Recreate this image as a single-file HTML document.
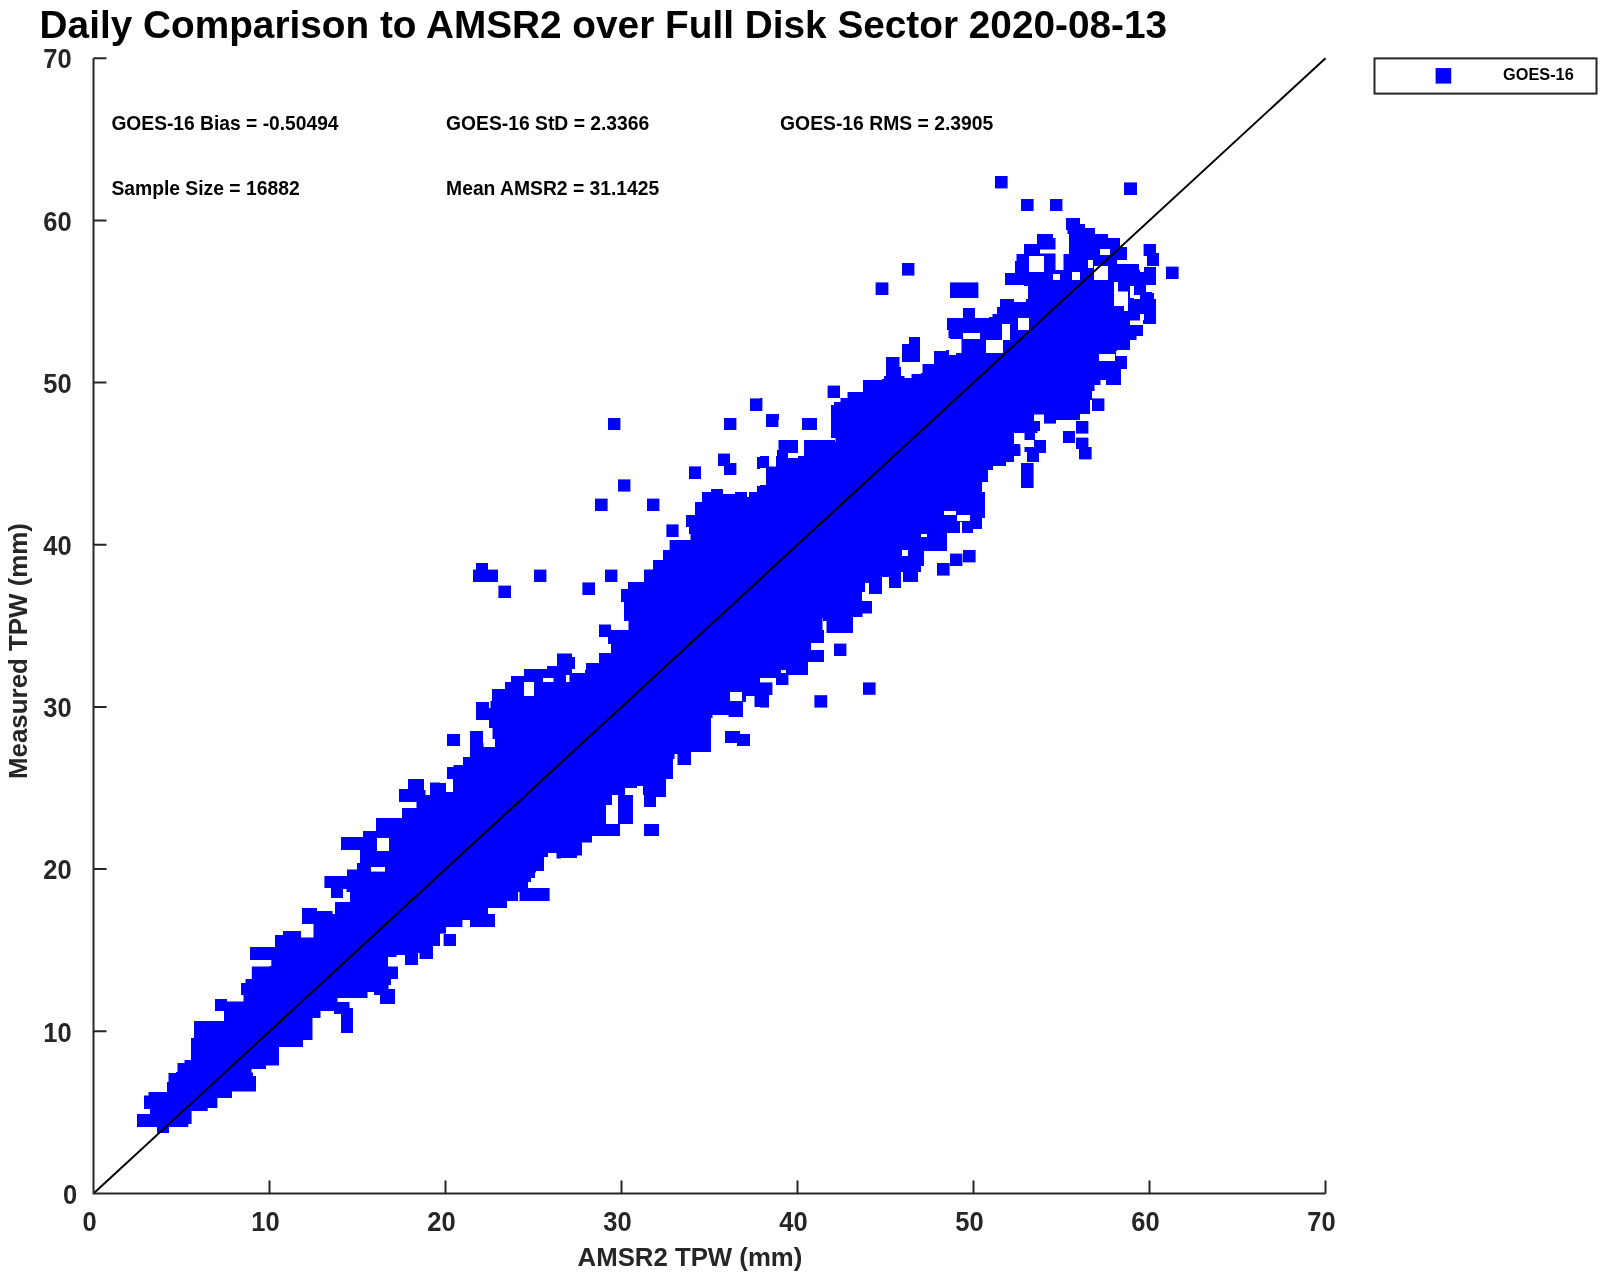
<!DOCTYPE html>
<html><head><meta charset="utf-8"><style>
html,body{margin:0;padding:0;background:#fff;width:1600px;height:1274px;overflow:hidden}
svg{display:block}
text{font-family:"Liberation Sans",sans-serif;font-weight:bold;filter:grayscale(1)}
</style></head><body>
<svg width="1600" height="1274" viewBox="0 0 1600 1274">
<text x="39.58" y="38.2" font-size="38.5" fill="#000" textLength="1127.55" lengthAdjust="spacingAndGlyphs">Daily Comparison to AMSR2 over Full Disk Sector 2020-08-13</text>
<text x="111.4" y="129.6" font-size="19.3" fill="#000" textLength="227.16" lengthAdjust="spacingAndGlyphs">GOES-16 Bias = -0.50494</text>
<text x="446.1" y="129.6" font-size="19.3" fill="#000" textLength="203.19" lengthAdjust="spacingAndGlyphs">GOES-16 StD = 2.3366</text>
<text x="780.1" y="129.6" font-size="19.3" fill="#000" textLength="213.14" lengthAdjust="spacingAndGlyphs">GOES-16 RMS = 2.3905</text>
<text x="111.4" y="194.5" font-size="19.3" fill="#000" textLength="188.23" lengthAdjust="spacingAndGlyphs">Sample Size = 16882</text>
<text x="446.1" y="194.5" font-size="19.3" fill="#000" textLength="213.19" lengthAdjust="spacingAndGlyphs">Mean AMSR2 = 31.1425</text>
<g fill="#0000ff"><polygon points="157.0,1133.0 157.0,1127.0 137.0,1127.0 137.0,1114.0 150.0,1114.0 150.0,1113.0 150.0,1109.0 144.0,1109.0 144.0,1108.0 144.0,1095.6 148.5,1095.6 148.5,1092.0 153.0,1092.0 167.0,1092.0 167.0,1091.0 167.0,1082.0 168.5,1082.0 168.5,1073.0 170.0,1073.0 176.0,1073.0 176.0,1072.0 177.5,1072.0 177.5,1063.0 179.0,1063.0 184.5,1063.0 184.5,1060.0 190.0,1060.0 191.0,1060.0 191.0,1038.0 192.0,1038.0 194.0,1038.0 194.0,1021.0 196.0,1021.0 224.0,1021.0 224.0,1020.0 224.0,1011.0 215.0,1011.0 215.0,1010.0 215.0,999.0 227.0,999.0 227.0,1001.6 228.0,1001.6 246.0,1001.6 243.5,1001.6 243.5,995.0 241.0,995.0 241.0,983.0 245.5,983.0 245.5,979.0 250.0,979.0 251.8,979.0 251.8,966.4 253.6,966.4 269.6,966.4 269.6,966.0 271.3,966.0 271.3,960.0 273.0,960.0 250.0,960.0 250.0,959.0 250.0,947.0 275.0,947.0 275.0,946.4 275.0,935.0 276.0,935.0 283.0,935.0 283.0,931.0 290.0,931.0 301.0,931.0 301.0,937.6 302.0,937.6 312.0,937.6 313.5,937.6 313.5,924.0 315.0,924.0 302.0,924.0 302.0,923.0 302.0,920.0 440.0,920.0 440.0,946.0 433.0,946.0 433.0,959.0 421.0,959.0 419.5,959.0 419.5,953.0 418.0,953.0 418.0,965.0 417.0,965.0 405.0,965.0 405.0,955.0 396.5,955.0 396.5,957.0 388.0,957.0 388.0,966.4 398.0,966.4 398.0,979.0 391.0,979.0 391.0,985.0 382.0,985.0 388.5,985.0 388.5,989.0 395.0,989.0 395.0,1004.0 380.0,1004.0 380.0,995.0 379.0,995.0 374.0,995.0 374.0,992.0 369.0,992.0 367.5,992.0 367.5,998.0 366.0,998.0 335.0,998.0 337.5,998.0 337.5,1002.0 340.0,1002.0 346.0,1002.0 349.5,1002.0 349.5,1008.0 353.0,1008.0 353.0,1033.0 341.0,1033.0 341.0,1014.0 334.0,1014.0 334.0,1011.0 327.0,1011.0 320.5,1011.0 320.5,1018.0 314.0,1018.0 312.5,1018.0 312.5,1040.0 311.0,1040.0 303.0,1040.0 303.0,1047.0 295.0,1047.0 279.0,1047.0 279.0,1065.6 266.0,1065.6 266.0,1069.0 253.0,1069.0 251.5,1069.0 251.5,1072.4 250.0,1072.4 253.0,1072.4 253.0,1076.0 256.0,1076.0 256.0,1091.4 237.0,1091.4 232.0,1091.4 232.0,1098.0 227.0,1098.0 217.4,1098.0 217.4,1108.0 207.7,1108.0 207.7,1111.0 198.0,1111.0 191.6,1111.0 191.6,1124.0 188.3,1124.0 188.3,1127.0 185.0,1127.0 169.0,1127.0 169.0,1133.0"/><rect x="440.0" y="920.0" width="22.4" height="7.0"/><rect x="440.0" y="927.0" width="6.0" height="6.6"/><rect x="443.6" y="934.0" width="12.4" height="12.0"/><rect x="470.0" y="920.0" width="25.0" height="7.0"/><polygon points="302.0,920.0 302.0,908.0 317.0,908.0 317.0,911.0 330.0,911.0 332.5,911.0 332.5,914.0 335.0,914.0 335.0,902.0 350.0,902.0 350.0,901.0 350.0,892.0 346.5,892.0 346.5,889.0 343.0,889.0 343.0,898.0 331.0,898.0 331.0,888.0 324.4,888.0 324.4,876.0 347.0,876.0 347.0,869.6 357.0,869.6 357.0,869.0 357.0,863.0 360.0,863.0 360.0,850.0 341.0,850.0 341.0,849.6 341.0,837.0 363.0,837.0 363.0,831.0 376.0,831.0 376.0,830.0 376.0,818.0 402.0,818.0 402.0,817.6 402.0,808.0 415.0,808.0 416.5,808.0 416.5,802.0 418.0,802.0 399.0,802.0 399.0,801.0 399.0,789.0 408.0,789.0 408.0,779.0 424.0,779.0 424.0,790.0 425.5,790.0 425.5,795.0 427.0,795.0 430.0,795.0 430.0,782.4 431.0,782.4 440.0,782.4 440.0,920.0"/><polygon points="440.0,920.0 440.0,783.0 447.0,783.0 447.0,782.0 447.0,767.0 453.5,767.0 453.5,765.0 460.0,765.0 463.0,765.0 463.0,757.0 466.0,757.0 470.0,757.0 470.0,756.0 470.0,743.0 482.0,743.0 483.5,743.0 483.5,747.0 485.0,747.0 495.0,747.0 495.0,746.0 495.0,739.0 496.0,739.0 492.5,739.0 492.5,728.0 489.0,728.0 489.0,708.0 490.5,708.0 490.5,701.0 492.0,701.0 492.0,689.0 505.0,689.0 505.0,682.0 511.0,682.0 511.0,676.0 512.0,676.0 524.0,676.0 524.0,670.0 760.0,670.0 760.0,707.0 754.5,707.0 754.5,696.0 749.0,696.0 746.0,696.0 746.0,702.0 743.0,702.0 743.0,717.0 728.5,717.0 728.5,715.0 714.0,715.0 712.5,715.0 712.5,718.0 711.0,718.0 711.0,752.0 691.0,752.0 691.0,765.0 679.0,765.0 677.5,765.0 677.5,754.0 676.0,754.0 674.5,754.0 674.5,759.0 673.0,759.0 673.0,779.0 672.0,779.0 666.0,779.0 666.0,780.0 666.0,797.0 656.0,797.0 656.0,798.0 656.0,807.0 644.0,807.0 644.0,795.0 643.0,795.0 643.0,786.0 642.0,786.0 637.0,786.0 637.0,788.0 632.0,788.0 625.0,788.0 625.0,795.0 618.0,795.0 612.0,795.0 612.0,805.0 606.0,805.0 606.0,824.0 607.0,824.0 620.0,824.0 620.0,836.0 592.0,836.0 592.0,837.0 592.0,842.4 582.0,842.4 582.0,843.6 582.0,855.6 577.0,855.6 577.0,858.0 572.0,858.0 561.0,858.0 561.0,858.4 556.5,858.4 556.5,853.0 552.0,853.0 548.0,853.0 548.0,857.0 544.0,857.0 544.0,871.0 543.0,871.0 536.0,871.0 536.0,872.4 535.0,872.4 535.0,878.0 534.0,878.0 531.0,878.0 531.0,882.0 528.0,882.0 528.0,888.0 549.6,888.0 549.6,889.0 549.6,901.0 521.0,901.0 519.5,901.0 519.5,892.0 518.0,892.0 518.0,901.0 517.0,901.0 507.0,901.0 507.0,902.0 507.0,908.0 488.0,908.0 488.0,914.0 495.0,914.0 495.0,920.0"/><rect x="476.0" y="702.0" width="13.0" height="18.0"/><rect x="447.0" y="734.0" width="13.0" height="12.0"/><rect x="470.0" y="731.0" width="13.0" height="12.0"/><rect x="725.0" y="731.0" width="15.0" height="12.0"/><rect x="737.0" y="734.0" width="13.0" height="12.0"/><rect x="644.0" y="824.0" width="15.0" height="12.0"/><rect x="618.0" y="795.0" width="15.0" height="29.0"/><rect x="644.0" y="795.0" width="12.0" height="12.0"/><rect x="760.0" y="670.0" width="21.0" height="8.0"/><rect x="786.0" y="670.0" width="22.0" height="5.0"/><rect x="776.0" y="673.0" width="12.4" height="12.0"/><rect x="760.0" y="682.4" width="12.4" height="12.6"/><rect x="760.0" y="695.0" width="9.0" height="12.6"/><rect x="814.4" y="695.2" width="12.8" height="12.4"/><rect x="863.0" y="682.4" width="12.6" height="12.4"/><polygon points="524.0,670.0 524.0,669.0 547.0,669.0 547.0,666.0 557.0,666.0 557.0,653.6 569.0,653.6 572.0,653.6 572.0,657.0 575.0,657.0 575.0,670.0 586.0,670.0 586.0,663.0 599.0,663.0 599.0,653.0 611.0,653.0 611.0,644.0 608.0,644.0 608.0,643.0 608.0,637.0 599.0,637.0 599.0,636.0 599.0,624.4 611.0,624.4 611.0,630.0 627.0,630.0 628.5,630.0 628.5,621.0 630.0,621.0 624.0,621.0 624.0,620.0 624.0,602.0 621.0,602.0 621.0,601.0 621.0,589.0 628.0,589.0 628.0,588.0 628.0,582.0 644.0,582.0 644.0,581.0 644.0,569.6 653.0,569.6 653.0,569.0 653.0,560.0 663.0,560.0 663.0,559.6 663.0,550.0 669.6,550.0 669.6,549.6 669.6,540.0 689.0,540.0 690.5,540.0 690.5,534.0 692.0,534.0 689.0,534.0 689.0,527.0 686.0,527.0 686.0,515.0 695.0,515.0 695.0,514.0 695.0,502.0 702.0,502.0 702.0,501.0 702.0,492.0 711.0,492.0 711.0,491.0 711.0,489.0 712.0,489.0 723.0,489.0 723.0,494.0 724.0,494.0 735.0,494.0 735.0,492.0 746.0,492.0 747.0,492.0 747.0,497.0 748.0,497.0 749.0,497.0 749.0,492.0 750.0,492.0 757.0,492.0 757.0,491.0 757.0,486.0 760.0,486.0 760.0,485.0 760.0,670.0"/><rect x="608.0" y="420.0" width="12.4" height="10.0"/><rect x="724.0" y="420.0" width="12.4" height="10.0"/><rect x="718.0" y="453.6" width="12.0" height="12.4"/><rect x="724.0" y="463.0" width="12.4" height="12.0"/><rect x="757.0" y="457.0" width="3.0" height="12.0"/><rect x="689.0" y="466.4" width="12.0" height="12.6"/><rect x="618.0" y="479.4" width="12.4" height="12.2"/><rect x="595.0" y="498.6" width="12.6" height="12.4"/><rect x="647.0" y="498.6" width="12.4" height="12.4"/><rect x="666.4" y="524.4" width="12.2" height="12.6"/><rect x="476.0" y="563.0" width="12.0" height="7.0"/><rect x="473.0" y="569.6" width="25.0" height="12.4"/><rect x="498.4" y="585.6" width="12.6" height="12.4"/><rect x="534.0" y="569.6" width="12.4" height="12.4"/><rect x="605.0" y="569.6" width="12.4" height="12.4"/><rect x="582.4" y="582.4" width="12.6" height="12.6"/><polygon points="760.0,670.0 760.0,485.0 766.0,485.0 766.0,478.0 778.0,478.0 779.0,478.0 779.0,468.0 780.0,468.0 760.0,468.0 760.0,456.0 777.0,456.0 777.0,450.0 778.5,450.0 778.5,440.0 780.0,440.0 798.0,440.0 798.0,453.0 797.0,453.0 797.0,458.0 796.0,458.0 798.0,458.0 798.0,456.0 800.0,456.0 804.0,456.0 804.0,440.0 808.0,440.0 830.0,440.0 835.0,440.0 835.0,442.0 840.0,442.0 835.5,442.0 835.5,438.0 831.0,438.0 831.0,420.0 1040.0,420.0 1040.0,431.0 1037.5,431.0 1037.5,433.0 1035.0,433.0 1035.0,440.0 1036.0,440.0 1046.0,440.0 1046.0,441.0 1046.0,453.0 1039.0,453.0 1039.0,454.0 1039.0,462.0 1027.0,462.0 1027.0,452.0 1023.5,452.0 1023.5,456.0 1020.0,456.0 1014.0,456.0 1014.0,457.0 1014.0,462.0 1006.0,462.0 1006.0,466.0 998.0,466.0 993.0,466.0 993.0,470.0 988.0,470.0 988.0,482.0 982.0,482.0 982.0,483.0 982.0,492.0 985.0,492.0 985.0,493.0 985.0,518.0 982.0,518.0 982.0,519.0 982.0,529.0 973.0,529.0 973.0,533.0 964.0,533.0 962.0,533.0 962.0,522.0 960.0,522.0 960.0,533.0 959.0,533.0 947.0,533.0 947.0,551.0 946.0,551.0 924.0,551.0 924.0,552.0 924.0,566.0 921.0,566.0 921.0,572.0 918.0,572.0 918.0,582.0 905.0,582.0 903.0,582.0 903.0,572.0 901.0,572.0 901.0,588.0 889.0,588.0 889.0,577.0 882.0,577.0 882.0,594.0 870.0,594.0 869.0,594.0 869.0,583.0 868.0,583.0 865.0,583.0 865.0,592.0 862.0,592.0 862.0,601.0 872.0,601.0 872.0,602.0 872.0,613.6 862.5,613.6 862.5,617.0 853.0,617.0 853.0,633.0 828.0,633.0 826.5,633.0 826.5,621.0 825.0,621.0 823.0,621.0 823.0,618.0 821.0,618.0 822.5,618.0 822.5,630.0 824.0,630.0 824.0,643.0 811.0,643.0 811.0,644.0 811.0,650.0 824.0,650.0 824.0,662.0 808.0,662.0 808.0,663.0 808.0,670.0"/><rect x="766.0" y="420.0" width="12.4" height="7.0"/><rect x="802.0" y="420.0" width="15.0" height="10.0"/><rect x="1044.0" y="420.0" width="12.0" height="3.6"/><rect x="1063.0" y="431.0" width="12.0" height="12.0"/><rect x="1021.0" y="463.0" width="12.6" height="25.0"/><rect x="937.0" y="563.0" width="12.6" height="12.6"/><rect x="950.0" y="553.6" width="12.4" height="12.4"/><rect x="963.0" y="550.0" width="12.6" height="12.4"/><rect x="834.0" y="643.6" width="12.4" height="12.4"/><rect x="1076.0" y="421.0" width="12.4" height="12.6"/><rect x="1076.0" y="437.6" width="12.4" height="11.4"/><rect x="1079.0" y="447.0" width="12.6" height="12.4"/><rect x="750.0" y="398.4" width="10.0" height="12.6"/><rect x="608.0" y="418.0" width="12.4" height="2.0"/><rect x="724.0" y="418.0" width="12.4" height="2.0"/><polygon points="831.0,420.0 831.0,405.0 834.0,405.0 834.0,402.0 837.0,402.0 840.5,402.0 840.5,398.0 844.0,398.0 847.5,398.0 847.5,392.0 851.0,392.0 863.0,392.0 863.0,380.0 882.0,380.0 882.0,379.0 884.0,379.0 884.0,376.0 886.0,376.0 886.0,357.0 898.0,357.0 899.5,357.0 899.5,367.0 901.0,367.0 901.0,376.0 904.5,376.0 904.5,378.0 908.0,378.0 911.5,378.0 911.5,374.0 915.0,374.0 921.0,374.0 921.0,373.0 922.5,373.0 922.5,364.0 924.0,364.0 934.0,364.0 934.0,363.0 934.0,351.0 946.0,351.0 946.0,350.0 949.0,350.0 949.0,355.0 952.0,355.0 956.0,355.0 956.0,353.0 960.0,353.0 961.5,353.0 961.5,339.0 963.0,339.0 950.0,339.0 950.0,338.0 948.5,338.0 948.5,330.0 947.0,330.0 947.0,318.0 963.0,318.0 963.0,317.6 963.0,308.0 975.0,308.0 975.0,318.0 976.0,318.0 989.0,318.0 989.0,317.0 992.5,317.0 992.5,314.0 996.0,314.0 997.0,314.0 997.0,307.0 998.0,307.0 1000.0,307.0 1000.0,299.0 1002.0,299.0 1014.0,299.0 1014.0,302.0 1015.0,302.0 1024.0,302.0 1026.0,302.0 1026.0,298.0 1028.0,298.0 1028.0,286.0 1024.0,286.0 1024.0,285.0 1005.0,285.0 1005.0,273.0 1015.0,273.0 1015.0,272.0 1015.0,261.0 1016.5,261.0 1016.5,254.0 1018.0,254.0 1024.0,254.0 1024.0,253.0 1024.0,244.0 1037.0,244.0 1037.0,243.6 1037.0,234.0 1050.0,234.0 1053.0,234.0 1053.0,238.0 1056.0,238.0 1056.0,250.0 1059.5,250.0 1059.5,252.0 1063.0,252.0 1066.0,252.0 1066.0,250.0 1069.0,250.0 1069.0,234.0 1067.5,234.0 1067.5,230.0 1066.0,230.0 1066.0,218.0 1080.0,218.0 1080.0,420.0"/><rect x="995.0" y="176.0" width="12.6" height="12.4"/><rect x="1021.0" y="199.0" width="12.6" height="12.0"/><rect x="1050.0" y="199.0" width="12.4" height="12.0"/><rect x="902.0" y="263.0" width="12.4" height="12.6"/><rect x="875.6" y="282.4" width="12.8" height="12.6"/><rect x="950.0" y="282.4" width="28.4" height="15.6"/><rect x="827.6" y="385.6" width="12.4" height="12.4"/><rect x="760.0" y="398.0" width="2.4" height="13.0"/><rect x="766.0" y="414.0" width="13.0" height="6.0"/><rect x="802.0" y="418.0" width="15.0" height="2.0"/><rect x="909.0" y="337.0" width="11.0" height="13.0"/><rect x="902.0" y="344.0" width="18.0" height="18.0"/><rect x="1044.0" y="253.0" width="12.4" height="13.0"/><rect x="1063.0" y="253.0" width="17.0" height="13.0"/><polygon points="1080.0,224.0 1085.0,224.0 1085.0,225.0 1085.0,228.0 1095.0,228.0 1095.0,234.0 1108.0,234.0 1108.0,238.0 1120.0,238.0 1120.0,247.0 1121.0,247.0 1127.0,247.0 1127.0,248.0 1127.0,260.0 1117.0,260.0 1117.0,261.0 1117.0,264.0 1118.0,264.0 1139.0,264.0 1139.0,270.0 1140.0,270.0 1142.0,270.0 1142.0,267.0 1144.0,267.0 1156.0,267.0 1156.0,285.0 1146.0,285.0 1146.0,286.0 1146.0,292.0 1152.0,292.0 1152.0,293.0 1154.0,293.0 1154.0,299.0 1156.0,299.0 1156.0,324.0 1143.0,324.0 1143.0,336.0 1136.5,336.0 1136.5,340.0 1130.0,340.0 1130.0,350.0 1117.0,350.0 1117.0,351.0 1116.0,351.0 1116.0,356.0 1115.0,356.0 1127.0,356.0 1127.0,357.0 1127.0,369.0 1121.0,369.0 1121.0,370.0 1121.0,385.0 1108.0,385.0 1106.0,385.0 1106.0,380.0 1104.0,380.0 1100.5,380.0 1100.5,385.0 1097.0,385.0 1094.5,385.0 1094.5,391.0 1092.0,391.0 1092.0,400.0 1091.0,400.0 1090.0,400.0 1090.0,414.0 1089.0,414.0 1080.0,414.0"/><rect x="1124.0" y="182.4" width="13.0" height="12.6"/><rect x="1143.6" y="244.0" width="12.4" height="12.0"/><rect x="1147.0" y="253.0" width="12.0" height="13.0"/><rect x="1166.0" y="266.6" width="12.6" height="12.4"/><rect x="1092.0" y="398.4" width="12.4" height="12.6"/><rect x="766" y="467" width="13.0" height="12.0"/></g><g fill="#fff"><rect x="377.0" y="838.0" width="12.0" height="13.0"/><rect x="371.0" y="867.0" width="14.0" height="4.6"/><rect x="524.0" y="682.0" width="10.0" height="14.0"/><rect x="730.0" y="692.0" width="12.0" height="9.0"/><rect x="944.0" y="511.0" width="12.0" height="4.0"/><rect x="957.0" y="515.0" width="13.0" height="6.0"/><rect x="921.0" y="534.0" width="6.0" height="3.0"/><rect x="902.0" y="550.0" width="6.0" height="6.0"/><rect x="788.0" y="453.0" width="10.0" height="5.0"/><rect x="1029.0" y="256.0" width="15.0" height="16.0"/><rect x="1016.0" y="286.0" width="12.0" height="13.0"/><rect x="1018.0" y="318.0" width="11.0" height="12.0"/><rect x="986.0" y="340.0" width="17.0" height="13.0"/><rect x="1002.0" y="324.0" width="8.0" height="16.0"/><rect x="963.0" y="333.0" width="17.0" height="6.0"/><rect x="1100.0" y="249.0" width="10.0" height="6.0"/><rect x="1099.0" y="268.0" width="9.0" height="12.0"/><rect x="1114.0" y="292.0" width="14.0" height="14.0"/><rect x="1099.0" y="354.0" width="16.0" height="7.0"/><rect x="446" y="779" width="7.0" height="13.0"/><rect x="543" y="678" width="10.5" height="4.0"/><rect x="566" y="675" width="3.5" height="7.0"/><rect x="572" y="669" width="13.0" height="4.0"/><rect x="769" y="450" width="7.0" height="16.5"/><rect x="1055.5" y="234" width="13.5" height="20.0"/><rect x="1040" y="249.5" width="29.0" height="4.0"/><rect x="1055.5" y="253.5" width="8.0" height="16.5"/><rect x="1053" y="274" width="7.0" height="6.0"/><rect x="1072" y="272" width="8.0" height="8.0"/><rect x="1088" y="260" width="5.0" height="8.0"/><rect x="1094" y="266" width="14.0" height="14.0"/><rect x="1140" y="266" width="4.0" height="6.0"/><rect x="1130" y="286" width="4.0" height="12.0"/><rect x="1140" y="314" width="4.0" height="6.0"/><rect x="1034" y="414.5" width="10.0" height="6.5"/><rect x="1014" y="433" width="10.5" height="11.0"/><rect x="1020.5" y="440" width="13.5" height="7.0"/><rect x="1020.5" y="444" width="4.0" height="16.0"/><rect x="1114" y="282" width="4.0" height="23.0"/><rect x="1118" y="291.5" width="10.0" height="13.5"/><rect x="1124" y="305" width="4.0" height="6.0"/><rect x="1130" y="286" width="4.0" height="9.0"/><rect x="1134" y="295" width="6.0" height="4.0"/><rect x="1140" y="314" width="3.0" height="10.0"/><rect x="1130" y="320.5" width="13.0" height="4.5"/></g>
<line x1="93.5" y1="1193.5" x2="1325.5" y2="58.2" stroke="#000" stroke-width="2"/>
<path d="M93.5 58.2V1193.5H1325.5" stroke="#262626" stroke-width="2" fill="none"/>
<path d="M269.5 1193.5V1180.5M93.5 1031.3H106.5M445.5 1193.5V1180.5M93.5 869.1H106.5M621.5 1193.5V1180.5M93.5 706.9H106.5M797.5 1193.5V1180.5M93.5 544.8H106.5M973.5 1193.5V1180.5M93.5 382.6H106.5M1149.5 1193.5V1180.5M93.5 220.4H106.5M1325.5 1193.5V1180.5M93.5 58.2H106.5" stroke="#262626" stroke-width="2" fill="none"/>
<g fill="#262626" font-size="27.3"><text x="89.5" y="1231" text-anchor="middle" textLength="14.18" lengthAdjust="spacingAndGlyphs">0</text><text x="77.2" y="1203.7" text-anchor="end" textLength="14.18" lengthAdjust="spacingAndGlyphs">0</text><text x="265.5" y="1231" text-anchor="middle" textLength="28.36" lengthAdjust="spacingAndGlyphs">10</text><text x="71.6" y="1041.5" text-anchor="end" textLength="28.36" lengthAdjust="spacingAndGlyphs">10</text><text x="441.5" y="1231" text-anchor="middle" textLength="28.36" lengthAdjust="spacingAndGlyphs">20</text><text x="71.6" y="879.3" text-anchor="end" textLength="28.36" lengthAdjust="spacingAndGlyphs">20</text><text x="617.5" y="1231" text-anchor="middle" textLength="28.36" lengthAdjust="spacingAndGlyphs">30</text><text x="71.6" y="717.1" text-anchor="end" textLength="28.36" lengthAdjust="spacingAndGlyphs">30</text><text x="793.5" y="1231" text-anchor="middle" textLength="28.36" lengthAdjust="spacingAndGlyphs">40</text><text x="71.6" y="555.0" text-anchor="end" textLength="28.36" lengthAdjust="spacingAndGlyphs">40</text><text x="969.5" y="1231" text-anchor="middle" textLength="28.36" lengthAdjust="spacingAndGlyphs">50</text><text x="71.6" y="392.8" text-anchor="end" textLength="28.36" lengthAdjust="spacingAndGlyphs">50</text><text x="1145.5" y="1231" text-anchor="middle" textLength="28.36" lengthAdjust="spacingAndGlyphs">60</text><text x="71.6" y="230.6" text-anchor="end" textLength="28.36" lengthAdjust="spacingAndGlyphs">60</text><text x="1321.5" y="1231" text-anchor="middle" textLength="28.36" lengthAdjust="spacingAndGlyphs">70</text><text x="71.6" y="68.4" text-anchor="end" textLength="28.36" lengthAdjust="spacingAndGlyphs">70</text></g>
<text x="577.58" y="1265.7" font-size="25.3" fill="#262626" textLength="224.7" lengthAdjust="spacingAndGlyphs">AMSR2 TPW (mm)</text>
<text transform="translate(27.1,651) rotate(-90)" font-size="25.3" fill="#262626" text-anchor="middle" textLength="256" lengthAdjust="spacingAndGlyphs">Measured TPW (mm)</text>
<rect x="1374.5" y="58.4" width="222" height="35.2" fill="#fff" stroke="#262626" stroke-width="2"/>
<rect x="1435.6" y="68.1" width="15.6" height="15.5" fill="#0000ff"/>
<text x="1503.07" y="80.2" font-size="15.9" fill="#000" textLength="70.64" lengthAdjust="spacingAndGlyphs">GOES-16</text>
</svg>
</body></html>
